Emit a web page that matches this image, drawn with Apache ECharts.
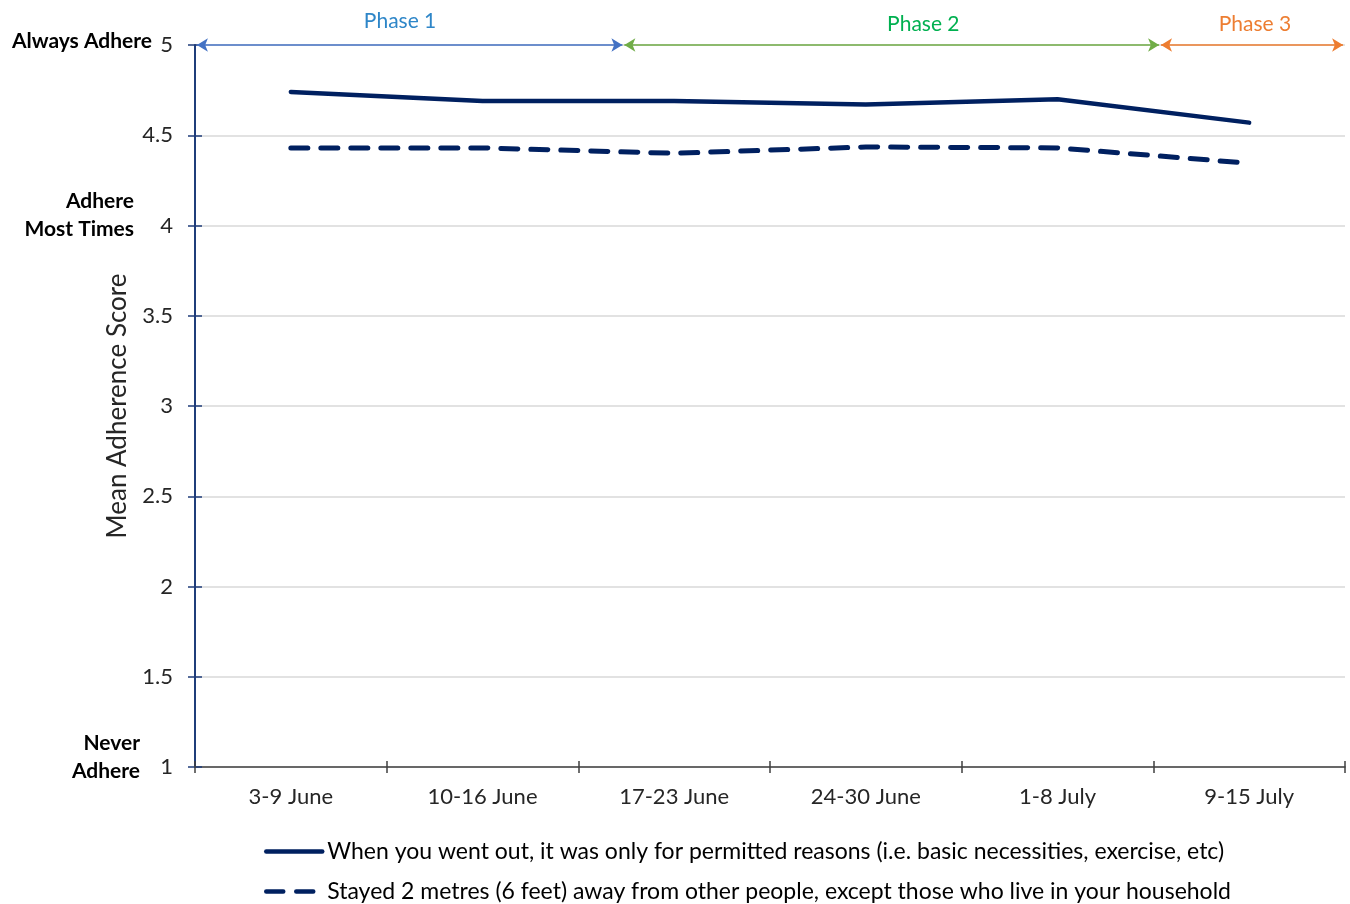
<!DOCTYPE html>
<html><head><meta charset="utf-8">
<script src="https://cdn.jsdelivr.net/npm/echarts@6/dist/echarts.min.js"></script>
<style>html,body{margin:0;padding:0;background:#fff}#c{width:1350px;height:904px}</style>
</head><body><div id="c"></div>
<script>
// ---- data ----
const categories = ['3-9 June', '10-16 June', '17-23 June', '24-30 June', '1-8 July', '9-15 July'];
const seriesNames = [
  'When you went out, it was only for permitted reasons (i.e. basic necessities, exercise, etc)',
  'Stayed 2 metres (6 feet) away from other people, except those who live in your household'
];
const permittedReasons = [4.74, 4.69, 4.69, 4.67, 4.70, 4.57];
const stayedTwoMetres = [4.43, 4.43, 4.40, 4.435, 4.43, 4.345];
const yMin = 1, yMax = 5, yStep = 0.5;
const anchorLabels = [
  { value: 5, lines: ['Always Adhere'] },
  { value: 4, lines: ['Adhere', 'Most Times'] },
  { value: 1, lines: ['Never', 'Adhere'] }
];
const phaseNames = ['Phase 1', 'Phase 2', 'Phase 3'];
const phaseStart = [0.01, 2.24, 5.04];   // in category-width units along the x axis
const phaseEnd = [2.23, 5.03, 5.99];
const phaseLabelAt = [1.07, 3.80, 5.53];

// ---- styles ----
const navy = '#002060';
const phaseLineColors = ['#4472C4', '#70AD47', '#ED7D31'];
const phaseTextColors = ['#2E86C8', '#00B050', '#ED7D31'];
const FONT = 'Lato';

const chart = echarts.init(document.getElementById('c'), null, { renderer: 'canvas' });

const option = {
  animation: false,
  backgroundColor: '#fff',
  textStyle: { fontFamily: FONT },
  grid: { left: 195, right: 5, top: 45, bottom: 137, containLabel: false },
  legend: {
    data: seriesNames,
    orient: 'vertical',
    left: 264,
    top: 840,
    height: 90,
    padding: 0,
    itemWidth: 56,
    itemHeight: 14,
    itemGap: 17,
    lineStyle: { width: 4.5 },
    itemStyle: { color: 'transparent', borderColor: 'transparent', borderWidth: 0, opacity: 0 },
    textStyle: { fontSize: 23, color: '#000', fontFamily: FONT },
    selectedMode: false
  },
  xAxis: [
    {
      type: 'category', data: categories, boundaryGap: true,
      axisLine: { lineStyle: { color: '#404040', width: 1.5 } },
      axisTick: { show: true, length: 6, inside: false, lineStyle: { color: '#404040', width: 1.5 } },
      axisLabel: { fontSize: 22, color: '#262626', margin: 19, fontFamily: FONT },
      splitLine: { show: false }
    },
    {
      type: 'category', data: categories, boundaryGap: true, position: 'bottom',
      axisLine: { show: false },
      axisTick: { show: true, length: 6, inside: true, lineStyle: { color: '#404040', width: 1.5 } },
      axisLabel: { show: false }, splitLine: { show: false }
    },
    { type: 'value', min: 0, max: categories.length, show: false }
  ],
  yAxis: [
    {
      type: 'value', min: yMin, max: yMax, interval: yStep,
      name: 'Mean Adherence Score', nameLocation: 'middle', nameRotate: 90, nameGap: 64,
      nameTextStyle: { fontSize: 26, color: '#262626', fontFamily: FONT },
      axisLine: { show: true, lineStyle: { color: '#1F3D7A', width: 2 } },
      axisTick: { show: true, length: 7, lineStyle: { color: '#1F3D7A', width: 1.5 } },
      axisLabel: { fontSize: 22, color: '#262626', margin: 22, fontFamily: FONT },
      splitLine: { show: true, lineStyle: { color: '#D9D9D9', width: 1.5 } }
    },
    {
      type: 'value', min: yMin, max: yMax, interval: yStep, position: 'left',
      axisLine: { show: false },
      axisTick: { show: true, inside: true, length: 7, lineStyle: { color: '#1F3D7A', width: 1.5 } },
      axisLabel: { show: false }, splitLine: { show: false }
    }
  ],
  series: [
    {
      name: seriesNames[0], type: 'line', data: permittedReasons,
      symbol: 'none', smooth: false,
      lineStyle: { color: navy, width: 4.5, cap: 'round', join: 'round' },
      itemStyle: { color: navy }, z: 5
    },
    {
      name: seriesNames[1], type: 'line', data: stayedTwoMetres,
      symbol: 'none', smooth: false,
      lineStyle: { color: navy, width: 5, type: [17, 13], cap: 'round' },
      itemStyle: { color: navy }, z: 5
    },
    {
      name: 'phases', type: 'line', xAxisIndex: 2, yAxisIndex: 0, data: [],
      symbol: 'none', z: 6,
      markLine: {
        silent: true, animation: false,
        symbol: ['arrow', 'arrow'], symbolSize: [10, 11],
        label: { show: false },
        data: phaseNames.map((n, i) => [
          { coord: [phaseStart[i], yMax], lineStyle: { color: phaseLineColors[i], width: 1.5, type: 'solid' }, itemStyle: { color: phaseLineColors[i] } },
          { coord: [phaseEnd[i], yMax] }
        ])
      }
    }
  ]
};
chart.setOption(option);

function addGraphics() {
  const g = [];
  anchorLabels.forEach((a, i) => {
    const y = chart.convertToPixel({ yAxisIndex: 0 }, a.value);
    const lh = 28;
    const offs = a.lines.length === 1 ? -4 : -10;
    g.push({
      type: 'text', silent: true,
      x: i === 0 ? 152 : (a.value === 4 ? 134 : 140),
      y: y + offs,
      style: {
        text: a.lines.join('\n'), fontSize: 21, fontWeight: 'bold', fontFamily: FONT,
        fill: '#000', align: 'right', verticalAlign: 'middle', lineHeight: lh
      }
    });
  });
  phaseNames.forEach((n, i) => {
    const x = chart.convertToPixel({ xAxisIndex: 2 }, phaseLabelAt[i]);
    g.push({
      type: 'text', silent: true, x: x, y: i === 0 ? 21 : 24,
      style: { text: n, fontSize: 21, fontFamily: FONT, fill: phaseTextColors[i], align: 'center', verticalAlign: 'middle' }
    });
  });
  chart.setOption({ graphic: g });
}
addGraphics();
</script>
</body></html>
